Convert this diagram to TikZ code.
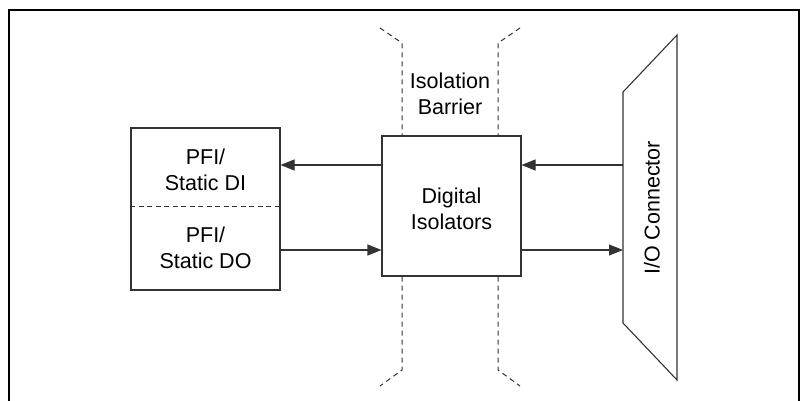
\documentclass[tikz,border=0pt]{standalone}
\usepackage{fontspec}
\setmainfont{Liberation Sans}
\usetikzlibrary{arrows.meta, positioning, calc}

\begin{document}
\begin{tikzpicture}[
    x=1pt, y=-1pt,
    font=\fontsize{21.5}{26}\selectfont,
    line_col/.style={draw=black!80, line width=1.1pt},
    block/.style={line_col, minimum width=139pt, minimum height=140pt, align=center, inner sep=0pt},
    label_txt/.style={align=center, inner sep=0pt},
    arrow/.style={line_col, -{Triangle[length=14pt, width=11pt]}},
    barrier/.style={draw=black!80, line width=1pt, dash pattern=on 5pt off 4pt}
]
\useasboundingbox (0,0) rectangle (800,400);

% --- Frame ---
\draw[line width=2.5pt] (9,402) -- (9,10) -- (799,10) -- (799,402);

% --- PFI Block ---
\node[block, minimum width=149pt, minimum height=162pt] (pfi) at (205.5,209) {};
\node[label_txt] (di) at (205.5,170) {PFI/\\Static DI};
\node[label_txt] (do) at (205.5,248) {PFI/\\Static DO};
\draw[line_col, line width=0.9pt, dash pattern=on 5pt off 3.5pt] (pfi.west |- 0,206) -- (pfi.east |- 0,206);

% --- Digital Isolators ---
\node[block] (iso) at (451.5,206) {};
\node[label_txt] (iso_txt) at (451.5,209) {Digital\\Isolators};

% --- Isolation Barrier ---
\node[label_txt] (bar) at (450,94) {Isolation\\Barrier};
\draw[barrier] (380,28) -- (402,43) -- (iso.north -| 402,0);
\draw[barrier] (iso.south -| 402,0) -- (402,370) -- (380,386);
\draw[barrier] (520,28) -- (498,43) -- (iso.north -| 498,0);
\draw[barrier] (iso.south -| 498,0) -- (498,370) -- (520,386);

% --- I/O Connector ---
\coordinate (con_tl) at (623,92);
\coordinate (con_tr) at (677,35);
\coordinate (con_br) at (677,380);
\coordinate (con_bl) at (623,323);
\draw[line_col] (con_tl) -- (con_tr) -- (con_br) -- (con_bl) -- cycle;
\node[label_txt, rotate=90] (con) at (652,208) {I/O Connector};

% --- Signal Arrows ---
\coordinate (sig_in) at (0,165);
\coordinate (sig_out) at (0,250);
\draw[arrow] (iso.west |- sig_in) -- (pfi.east |- sig_in);
\draw[arrow] (pfi.east |- sig_out) -- (iso.west |- sig_out);
\draw[arrow] (con_tl |- sig_in) -- (iso.east |- sig_in);
\draw[arrow] (iso.east |- sig_out) -- (con_tl |- sig_out);

\end{tikzpicture}
\end{document}
